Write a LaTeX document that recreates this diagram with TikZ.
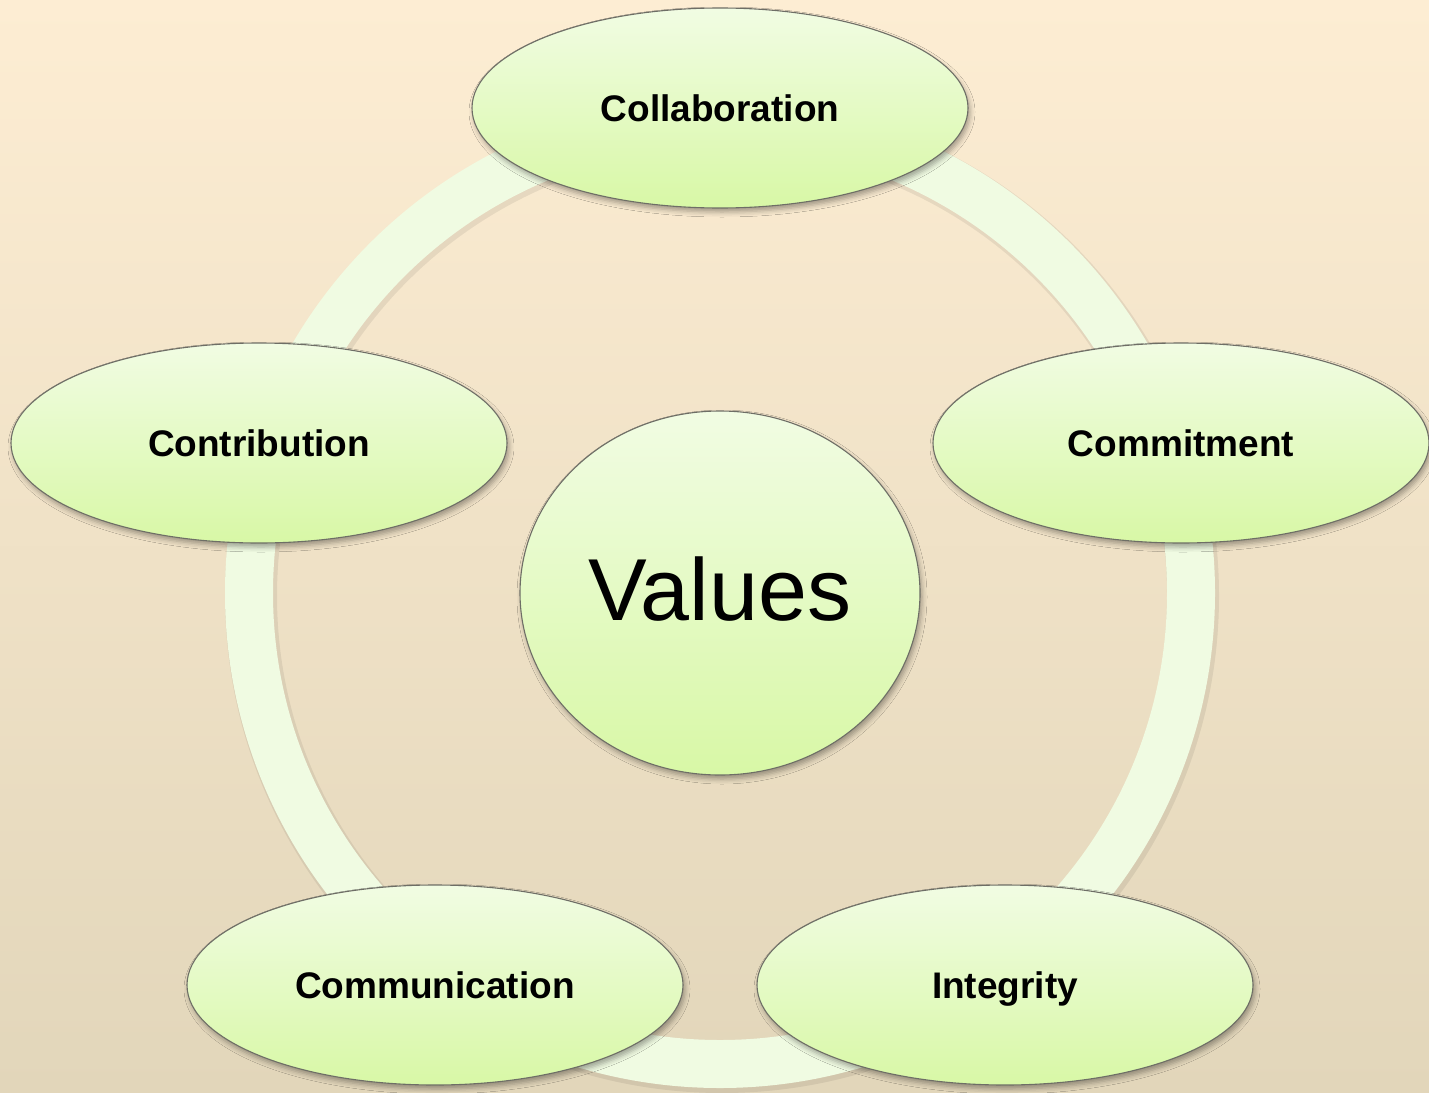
\documentclass[tikz,border=0pt]{standalone}
\usepackage{fontspec}
\setmainfont{Liberation Sans}
\usetikzlibrary{shapes.geometric,shadows.blur}
\definecolor{bgtop}{HTML}{FDEDD3}
\definecolor{bgbot}{HTML}{E2D6BA}
\definecolor{fillA}{HTML}{F1FCE3}
\definecolor{fillB}{HTML}{D8F8A6}
\definecolor{ringc}{HTML}{F0FBE2}
\definecolor{edge}{HTML}{6E6E66}
\tikzset{
  bubble/.style={ellipse, draw=edge, line width=1.1pt, inner sep=0pt,
    top color=fillA, bottom color=fillB,
    blur shadow={shadow xshift=2pt, shadow yshift=-4pt,
      shadow blur radius=5pt, shadow opacity=35}},
  item/.style={bubble, minimum width=496pt, minimum height=200pt,
    text height=26.5pt, text depth=0pt,
    font=\fontsize{37}{44}\selectfont\bfseries},
  hub/.style={bubble, minimum width=400pt, minimum height=364pt,
    text height=63pt, text depth=8pt,
    font=\fontsize{88}{100}\selectfont}
}
\begin{document}
\begin{tikzpicture}[x=1pt,y=-1pt]
  % page background
  \fill[top color=bgtop, bottom color=bgbot] (0,0) rectangle (1429,1092);
  \useasboundingbox (0,0) rectangle (1429,1092);
  % the ring behind the five values
  \coordinate (c) at (720,593);
  \draw[black, opacity=0.07, line width=52pt] ([shift={(2,3)}]c) circle[radius=471pt];
  \draw[ringc, line width=48pt] (c) circle[radius=471pt];
  % centre
  \node[hub] (values) at (720,593) {Values};
  % five values on the ring
  \node[item] (collab) at (720,108) {Collaboration};
  \node[item] (commit) at (1181,443) {Commitment};
  \node[item] (contrib) at (259,443) {Contribution};
  \node[item] (integ) at (1005,985) {Integrity};
  \node[item] (comm) at (435,985) {Communication};
\end{tikzpicture}
\end{document}
